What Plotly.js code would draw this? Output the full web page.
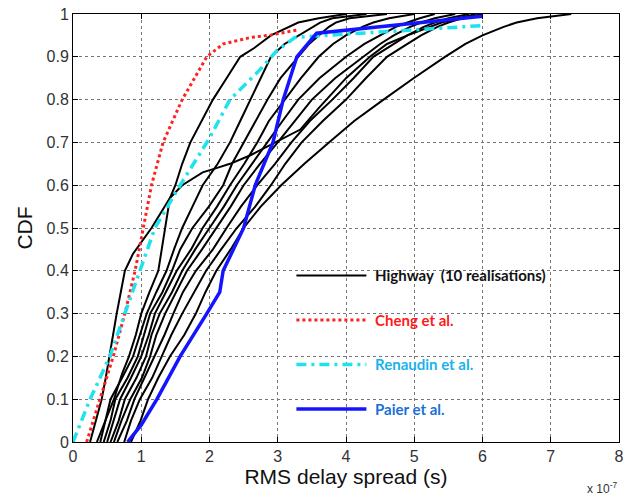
<!DOCTYPE html>
<html>
<head>
<meta charset="utf-8">
<script src="https://cdn.plot.ly/plotly-3.0.1.min.js"></script>
<style>html,body{margin:0;padding:0;background:#fff;}</style>
</head>
<body>
<div id="chart" style="width:629px;height:496px;"></div>
<script>
// RMS delay spread in units of 1e-7 s; CDF levels shared by most realisations
const Y25 = [0,0.05,0.1,0.15,0.2,0.25,0.3,0.35,0.4,0.45,0.5,0.55,0.6,0.65,0.7,0.75,0.8,0.85,0.9,0.93,0.95,0.97,0.98,0.99,1.0];

const hwA_x = [0.25,0.33,0.42,0.48,0.53,0.6,0.64,0.7,0.76,0.82,0.88,1.15,1.42,1.5,1.6,1.72,1.88,2.05,2.25,2.45,2.65,2.9,3.3,3.6,4.0];
const hwA_y = [0,0.05,0.1,0.15,0.2,0.26,0.3,0.35,0.4,0.42,0.44,0.5,0.57,0.6,0.65,0.7,0.75,0.8,0.85,0.9,0.92,0.95,0.98,0.99,1.0];

const hwB_x = [0.35,0.48,0.6,0.72,0.82,0.92,1.0,1.12,1.25,1.3,1.35,1.42,1.6,1.9,2.1,2.3,2.6,2.84,3.1,3.33,3.6,4.0,4.35,4.6,4.9,5.4,5.9];
const hwB_y = [0,0.05,0.1,0.16,0.2,0.25,0.3,0.35,0.4,0.45,0.5,0.57,0.6,0.63,0.64,0.65,0.67,0.69,0.71,0.73,0.78,0.85,0.9,0.93,0.95,0.98,1.0];

const hwC_x = [0.4,0.48,0.55,0.72,0.88,0.98,1.08,1.22,1.37,1.48,1.6,1.75,1.9,2.12,2.3,2.45,2.6,2.75,2.9,3.1,3.3,3.5,3.62,3.8,4.3];
const hwD_x = [0.45,0.55,0.62,0.8,0.95,1.04,1.13,1.31,1.45,1.57,1.75,1.99,2.2,2.33,2.5,2.67,2.85,3.04,3.3,3.46,3.6,3.75,3.85,4.05,4.6];
const hwE_x = [0.5,0.6,0.69,0.85,1.0,1.11,1.2,1.36,1.52,1.73,1.9,2.11,2.3,2.51,2.7,2.87,3.1,3.34,3.6,3.81,4.0,4.24,4.4,4.63,5.0];
const hwF_x = [0.55,0.67,0.76,0.93,1.07,1.15,1.27,1.45,1.6,1.79,2.0,2.21,2.4,2.62,2.85,3.07,3.3,3.61,4.0,4.27,4.5,4.73,4.9,5.08,5.3];
const hwG_x = [0.6,0.71,0.84,1.01,1.13,1.22,1.35,1.51,1.67,1.89,2.1,2.31,2.5,2.74,3.0,3.25,3.5,3.84,4.25,4.5,4.7,4.94,5.1,5.3,5.6];
const hwH_x = [0.65,0.79,0.9,1.05,1.2,1.34,1.47,1.61,1.8,2.05,2.25,2.46,2.7,2.96,3.2,3.47,3.8,4.11,4.4,4.69,4.9,5.14,5.3,5.5,5.8];
const hwI_x = [0.75,0.85,0.98,1.16,1.3,1.44,1.6,1.78,1.95,2.17,2.4,2.67,2.9,3.11,3.35,3.66,4.0,4.29,4.6,4.9,5.1,5.34,5.5,5.7,6.0];
const hwJ_x = [0.85,0.99,1.1,1.25,1.42,1.63,1.8,1.94,2.1,2.31,2.5,2.75,3.05,3.39,3.75,4.12,4.55,4.99,5.45,5.75,6.0,6.31,6.5,6.8,7.3];

const cheng_x = [0.2,0.4,0.59,0.76,0.91,1.03,1.15,1.32,1.6,1.96,2.2,2.6,2.9,3.3];
const cheng_y = [0,0.1,0.2,0.3,0.4,0.5,0.6,0.7,0.8,0.9,0.93,0.945,0.951,0.963];

const renaudin_x = [0,0.25,0.54,0.76,0.98,1.2,1.57,2.0,2.3,2.74,2.99,3.25,3.7,4.5,5.3,6.0];
const renaudin_y = [0,0.1,0.2,0.3,0.4,0.5,0.6,0.71,0.8,0.87,0.915,0.945,0.95,0.958,0.965,0.973];

const paier_x = [0.8,1.0,1.23,1.57,1.96,2.15,2.2,2.35,2.5,2.67,2.8,2.93,3.08,3.28,3.57,6.0];
const paier_y = [0,0.04,0.1,0.2,0.3,0.35,0.4,0.45,0.5,0.6,0.65,0.7,0.8,0.9,0.955,0.995];

const highway = [
  [hwA_x, hwA_y], [hwB_x, hwB_y], [hwC_x, Y25],
  [hwD_x, Y25], [hwE_x, Y25], [hwF_x, Y25], [hwG_x, Y25],
  [hwH_x, Y25], [hwI_x, Y25], [hwJ_x, Y25]
];

const traces = [];
highway.forEach((c, i) => {
  traces.push({
    x: c[0], y: c[1], type: 'scatter', mode: 'lines',
    line: {color: '#000000', width: 2},
    name: '\u00A0Highway  (10 realisations)',
    legendgroup: 'hw', showlegend: i === 0
  });
});
traces.push({
  x: cheng_x, y: cheng_y, type: 'scatter', mode: 'lines',
  line: {color: '#ff2020', width: 3, dash: 'dot'},
  name: '\u00A0<span style="color:#ff1a1a">Cheng et al.</span>', legendgroup: 'ch'
});
traces.push({
  x: renaudin_x, y: renaudin_y, type: 'scatter', mode: 'lines',
  line: {color: '#1ee3ee', width: 3.5, dash: '10px,5px,3px,5px'},
  name: '\u00A0<span style="color:#1ab2ee">Renaudin et al.</span>', legendgroup: 're'
});
traces.push({
  x: paier_x, y: paier_y, type: 'scatter', mode: 'lines',
  line: {color: '#1414ff', width: 3.5},
  name: '\u00A0<span style="color:#1a6fd6">Paier et al.</span>', legendgroup: 'pa'
});

const axisCommon = {
  showgrid: true, gridcolor: '#777', griddash: 'dot', gridwidth: 1,
  showline: true, linecolor: '#000', linewidth: 1, mirror: 'ticks',
  ticks: 'inside', ticklen: 5, tickcolor: '#000', zeroline: false,
  tickfont: {family: 'Liberation Sans, Arial, sans-serif', size: 16, color: '#333'}
};

const layout = {
  width: 629, height: 496,
  margin: {l: 73, r: 10, t: 14, b: 54},
  paper_bgcolor: '#fff', plot_bgcolor: '#fff',
  xaxis: Object.assign({}, axisCommon, {
    range: [0, 8], tick0: 0, dtick: 1,
    title: {text: 'RMS delay spread (s)', standoff: 4,
      font: {family: 'Liberation Sans, Arial, sans-serif', size: 21, color: '#111'}}
  }),
  yaxis: Object.assign({}, axisCommon, {
    range: [0, 1], tick0: 0, dtick: 0.1,
    title: {text: 'CDF', standoff: 8,
      font: {family: 'Liberation Sans, Arial, sans-serif', size: 21, color: '#111'}}
  }),
  showlegend: true,
  legend: {
    x: 0.4, y: 0.427, xanchor: 'left', yanchor: 'top',
    bgcolor: 'rgba(0,0,0,0)', borderwidth: 0,
    itemwidth: 70, tracegroupgap: 22, traceorder: 'grouped',
    font: {family: 'Lato, sans-serif', size: 15, color: '#111', weight: 'bold'}
  },
  annotations: [{
    xref: 'paper', yref: 'paper', x: 1.0, y: -0.108, xanchor: 'right', yanchor: 'middle',
    text: 'x 10<sup>-7</sup>', showarrow: false,
    font: {family: 'Liberation Sans, Arial, sans-serif', size: 12, color: '#333'}
  }]
};

Plotly.newPlot('chart', traces, layout, {staticPlot: true, displayModeBar: false});
</script>
</body>
</html>
